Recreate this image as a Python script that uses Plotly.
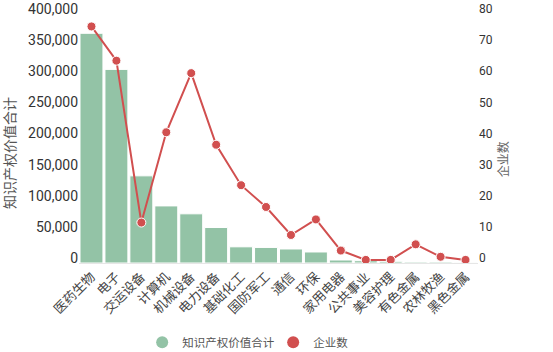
import plotly.graph_objects as go

categories = ["医药生物", "电子", "交运设备", "计算机", "机械设备", "电力设备", "基础化工", "国防军工",
              "通信", "环保", "家用电器", "公共事业", "美容护理", "有色金属", "农林牧渔", "黑色金属"]
ip_value = [369000, 311000, 140000, 91700, 79000, 57000, 26000, 25000,
            22500, 17700, 4800, 3700, 2700, 1600, 1600, 500]
company_count = [76, 65, 13, 42, 61, 38, 25, 18, 9, 14, 4, 1, 1, 6, 2, 1]
left_ticks = [0, 50000, 100000, 150000, 200000, 250000, 300000, 350000, 400000]
left_tick_text = ["0", "50,000", "100,000", "150,000", "200,000", "250,000", "300,000", "350,000", "400,000"]
right_ticks = [0, 10, 20, 30, 40, 50, 60, 70, 80]

GREEN = "#93c3a6"
RED = "#d14f4f"
FONT = "Roboto, Noto Sans CJK SC, sans-serif"

fig = go.Figure()
fig.add_trace(go.Bar(x=categories, y=ip_value, marker=dict(color=GREEN, line=dict(color="white", width=1)),
                     showlegend=False, yaxis="y"))
fig.add_trace(go.Scatter(x=categories, y=company_count, mode="lines+markers", yaxis="y2",
                         line=dict(color=RED, width=2),
                         marker=dict(color=RED, size=9, line=dict(color="white", width=1)),
                         showlegend=False))
# legend entries (circles)
fig.add_trace(go.Scatter(x=[categories[0]], y=[None], mode="markers", name="知识产权价值合计",
                         marker=dict(color=GREEN, size=12)))
fig.add_trace(go.Scatter(x=[categories[0]], y=[None], mode="markers", name="企业数",
                         marker=dict(color=RED, size=12), yaxis="y2"))

fig.update_layout(
    width=553, height=352,
    margin=dict(l=79, r=75, t=14, b=89, autoexpand=False),
    paper_bgcolor="white", plot_bgcolor="white",
    font=dict(family=FONT, color="#444", size=13),
    bargap=0.08,
    xaxis=dict(tickangle=-45, showgrid=False, showline=True, linecolor="#e6e6e6", linewidth=1,
               ticks="", tickfont=dict(size=13, color="#444"), automargin=False,
               categoryorder="array", categoryarray=categories, range=[-0.5, len(categories) - 0.5]),
    yaxis=dict(range=[0, 400000], tickvals=left_ticks, ticktext=left_tick_text, showgrid=False,
               zeroline=False, showline=False, ticks="", tickfont=dict(size=14, color="#333"),
               automargin=False, ticklabelshift=-5),
    yaxis2=dict(range=[0, 80], tickvals=right_ticks, overlaying="y", side="right", showgrid=False,
                zeroline=False, showline=False, ticks="", tickfont=dict(size=12, color="#333"),
                automargin=False, ticklabelshift=-5),
    legend=dict(orientation="h", xref="container", yref="container", x=0.494, xanchor="center",
                y=0.028, yanchor="middle", font=dict(size=11.5, color="#555"), itemwidth=30,
                entrywidth=86, entrywidthmode="pixels"),
    annotations=[
        dict(text="知识产权价值合计", x=-0.173, y=0.442, xref="paper", yref="paper", textangle=-90,
             xanchor="center", yanchor="middle",
             showarrow=False, font=dict(size=14, color="#555")),
        dict(text="企业数", x=1.066, y=0.418, xref="paper", yref="paper", textangle=-90,
             xanchor="center", yanchor="middle",
             showarrow=False, font=dict(size=12, color="#666")),
    ],
)

fig.write_html("out.html")
